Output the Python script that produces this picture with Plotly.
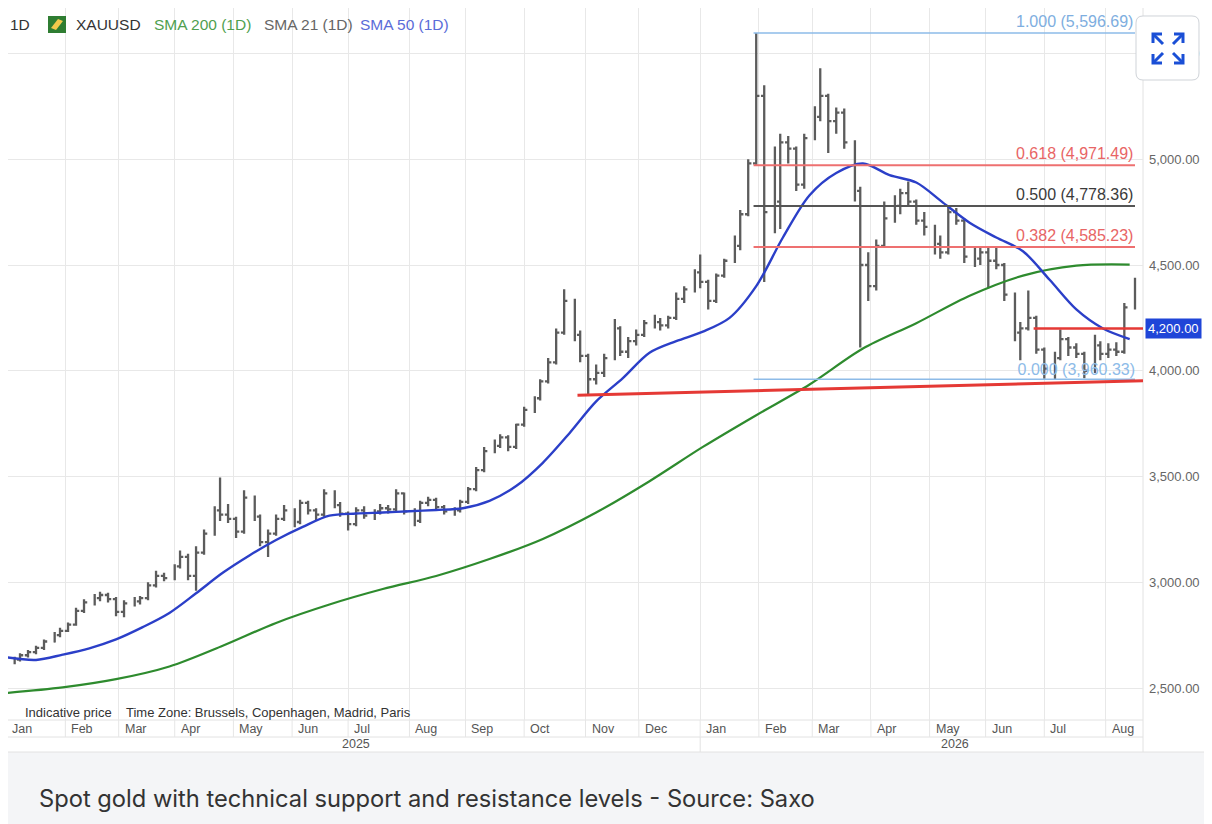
import plotly.graph_objects as go
import pandas as pd

# The page puts the figure 8px in from the top-left corner, so the figure is
# 1204x816 and reference pixel (x, y) maps to figure pixel (x-8, y-8).
OFF = 8
W, H = 1212 - OFF, 824 - OFF
def px(x): return (x - OFF) / W
def py(y): return 1 - (y - OFF) / H

# ---------------- data ----------------
bar_dates = pd.bdate_range("2025-01-01", periods=142, freq="3B")  # one bar per 3 trading days
opens = [2605, 2620, 2635, 2655, 2670, 2690, 2720, 2750, 2770, 2800,
         2865, 2905, 2925, 2940, 2920, 2860, 2900, 2910, 2925, 2985,
         3030, 3020, 3075, 3120, 3030, 3140, 3230, 3340, 3320, 3300,
         3240, 3400, 3310, 3190, 3230, 3300, 3340, 3285, 3375, 3340,
         3320, 3420, 3365, 3325, 3275, 3340, 3315, 3335, 3350, 3345,
         3420, 3335, 3290, 3375, 3390, 3355, 3335, 3340, 3380, 3440,
         3530, 3620, 3645, 3685, 3640, 3745, 3815, 3870, 3950, 4040,
         4180, 4330, 4170, 4070, 3960, 3990, 4060, 4200, 4090, 4140,
         4170, 4225, 4230, 4215, 4250, 4340, 4385, 4465, 4420, 4330,
         4450, 4520, 4590, 4740, 4980, 5300, 4750, 4800, 5080, 5050,
         4880, 5100, 5200, 5300, 5180, 5220, 5080, 4850, 4500, 4400,
         4590, 4720, 4780, 4840, 4800, 4710, 4680, 4600, 4560, 4750,
         4710, 4540, 4530, 4560, 4520, 4500, 4360, 4180, 4200, 4250,
         4100, 4010, 4060, 4150, 4110, 4080, 4000, 4120, 4080, 4100,
         4090, 4300]
highs = [2635, 2648, 2665, 2680, 2700, 2730, 2765, 2785, 2810, 2880,
         2920, 2945, 2955, 2950, 2930, 2915, 2930, 2935, 3000, 3055,
         3045, 3085, 3150, 3135, 3170, 3250, 3360, 3495, 3370, 3310,
         3435, 3410, 3320, 3250, 3320, 3365, 3350, 3390, 3385, 3350,
         3440, 3435, 3380, 3335, 3355, 3360, 3345, 3370, 3365, 3440,
         3425, 3350, 3385, 3405, 3400, 3365, 3355, 3390, 3450, 3545,
         3640, 3675, 3700, 3695, 3750, 3830, 3880, 3960, 4060, 4200,
         4385, 4340, 4190, 4080, 4030, 4080, 4245, 4210, 4160, 4195,
         4240, 4265, 4250, 4260, 4370, 4400, 4480, 4550, 4430, 4460,
         4530, 4640, 4760, 5000, 5596.7, 5350, 5060, 5120, 5110, 5060,
         5120, 5250, 5430, 5310, 5245, 5240, 5090, 4870, 4560, 4620,
         4800, 4830, 4860, 4895, 4810, 4750, 4690, 4640, 4780, 4770,
         4720, 4590, 4590, 4580, 4580, 4510, 4370, 4230, 4380, 4260,
         4110, 4090, 4195, 4160, 4130, 4090, 4170, 4140, 4130, 4135,
         4320, 4440]
lows = [2590, 2612, 2625, 2645, 2660, 2680, 2715, 2740, 2765, 2795,
        2855, 2890, 2910, 2905, 2840, 2835, 2885, 2895, 2915, 2975,
        3005, 3010, 3065, 3010, 2960, 3130, 3220, 3290, 3280, 3210,
        3230, 3290, 3170, 3120, 3220, 3290, 3260, 3275, 3320, 3295,
        3310, 3350, 3310, 3245, 3265, 3300, 3295, 3320, 3325, 3335,
        3320, 3265, 3280, 3360, 3340, 3320, 3315, 3330, 3370, 3430,
        3520, 3610, 3635, 3620, 3630, 3735, 3800, 3860, 3940, 4030,
        4170, 4140, 4040, 3890, 3935, 3970, 4050, 4070, 4060, 4120,
        4160, 4200, 4190, 4200, 4240, 4320, 4370, 4390, 4290, 4320,
        4440, 4510, 4570, 4730, 4970, 4420, 4650, 4670, 4980, 4850,
        4860, 5090, 5180, 5030, 5120, 5050, 4800, 4110, 4330, 4380,
        4580, 4700, 4740, 4780, 4690, 4640, 4550, 4530, 4550, 4690,
        4510, 4490, 4500, 4390, 4480, 4330, 4140, 4050, 4190, 4080,
        3962, 3961, 4050, 4070, 4060, 3965, 3990, 4050, 4060, 4070,
        4080, 4290]
closes = [2620, 2635, 2655, 2670, 2690, 2720, 2750, 2770, 2800, 2865,
          2905, 2925, 2940, 2920, 2860, 2900, 2910, 2925, 2985, 3030,
          3020, 3075, 3120, 3030, 3140, 3230, 3340, 3320, 3300, 3240,
          3400, 3310, 3190, 3230, 3300, 3340, 3285, 3375, 3340, 3320,
          3420, 3365, 3325, 3275, 3340, 3315, 3335, 3350, 3345, 3420,
          3335, 3290, 3375, 3390, 3355, 3335, 3340, 3380, 3440, 3530,
          3620, 3645, 3685, 3640, 3745, 3815, 3870, 3950, 4040, 4180,
          4330, 4170, 4070, 3960, 3990, 4060, 4200, 4090, 4140, 4170,
          4225, 4230, 4215, 4250, 4340, 4385, 4465, 4420, 4330, 4450,
          4520, 4590, 4740, 4980, 5300, 4750, 4800, 5080, 5050, 4880,
          5100, 5200, 5300, 5180, 5220, 5080, 4850, 4500, 4400, 4590,
          4720, 4780, 4840, 4800, 4710, 4680, 4600, 4560, 4750, 4710,
          4540, 4530, 4560, 4520, 4500, 4360, 4180, 4200, 4250, 4100,
          4010, 4060, 4150, 4110, 4080, 4000, 4120, 4080, 4100, 4090,
          4300, 4420]

sma50_dates = ["2025-01-01"] + [d.strftime("%Y-%m-%d") for d in pd.date_range("2025-01-17", periods=42, freq="14D")]
sma50 = [2647, 2633, 2658, 2688, 2730, 2788, 2855, 2948, 3045, 3127,
         3200, 3262, 3315, 3325, 3330, 3336, 3342, 3350, 3385, 3455,
         3565, 3705, 3855, 3965, 4085, 4140, 4185, 4250, 4400, 4630,
         4830, 4935, 4980, 4925, 4890, 4795, 4700, 4630, 4565, 4430,
         4290, 4200, 4150]

sma200_dates = ["2025-01-01"] + [d.strftime("%Y-%m-%d") for d in pd.date_range("2025-01-31", periods=21, freq="28D")]
sma200 = [2476, 2503, 2542, 2602, 2700, 2808, 2895, 2968, 3030, 3110,
          3205, 3330, 3478, 3640, 3790, 3935, 4105, 4225, 4355, 4450,
          4497, 4502]

fib_ratios = ["1.000", "0.618", "0.500", "0.382", "0.000"]
fib_values = [5596.69, 4971.49, 4778.36, 4585.23, 3960.33]
fib_start, fib_end = "2026-01-29", "2026-08-18"

support_dates = ["2025-10-29", "2026-08-21"]
support_values = [3884, 3953]
resist_dates = ["2026-06-25", "2026-08-21"]
resist_value = 4200

month_starts = ["2025-01-01", "2025-02-03", "2025-03-03", "2025-04-01", "2025-05-01",
                "2025-06-02", "2025-07-01", "2025-08-01", "2025-09-01", "2025-10-01",
                "2025-11-03", "2025-12-01", "2026-01-01", "2026-02-02", "2026-03-02",
                "2026-04-01", "2026-05-01", "2026-06-01", "2026-07-01", "2026-08-03"]
month_labels = ["Jan", "Feb", "Mar", "Apr", "May", "Jun", "Jul", "Aug", "Sep", "Oct",
                "Nov", "Dec", "Jan", "Feb", "Mar", "Apr", "May", "Jun", "Jul", "Aug"]
price_ticks = [2500, 3000, 3500, 4000, 4500, 5000, 5500]

# ---------------- styles ----------------
FONT = "Liberation Sans, Arial, sans-serif"
GRID = "#e8e8e8"
fib_line_colors = ["#8dbbe8", "#ee7070", "#555555", "#ee7070", "#8dbbe8"]
fib_text_colors = ["#7eaee0", "#e86565", "#3a3a3a", "#e86565", "#8dbbe8"]
fib_widths = [1.5, 2, 2, 2, 1.5]

fig = go.Figure()

# label of fib 0.000 sits under the price bars
fig.add_trace(go.Scatter(
    x=[fib_end], y=[fib_values[4]], mode="text",
    text=[f"{fib_ratios[4]} ({fib_values[4]:,.2f})"], textposition="top left",
    textfont=dict(family=FONT, size=16, color=fib_text_colors[4]),
    hoverinfo="skip", showlegend=False))

fig.add_trace(go.Scatter(x=sma200_dates, y=sma200, mode="lines",
                         line=dict(color="#2e8b2e", width=2.2, shape="spline", smoothing=0.9),
                         hoverinfo="skip", showlegend=False))

fig.add_trace(go.Ohlc(x=bar_dates, open=opens, high=highs, low=lows, close=closes,
                      increasing=dict(line=dict(color="#5c5c5c", width=2.3)),
                      decreasing=dict(line=dict(color="#5c5c5c", width=2.3)),
                      tickwidth=0.4, hoverinfo="skip", showlegend=False))

fig.add_trace(go.Scatter(x=sma50_dates, y=sma50, mode="lines",
                         line=dict(color="#2b3fc8", width=2.4, shape="spline", smoothing=0.9),
                         hoverinfo="skip", showlegend=False))

shapes = []
# caption background
shapes.append(dict(type="rect", xref="paper", yref="paper", x0=0, x1=1, y0=0, y1=py(752),
                   fillcolor="#f4f5f7", line=dict(width=0), layer="below"))
# frame / row separators
for yy, xe in ((720, 1143), (737, 1143), (752, 1212)):
    shapes.append(dict(type="line", xref="paper", yref="paper", x0=0, x1=px(xe),
                       y0=py(yy), y1=py(yy), line=dict(color="#e2e2e2", width=1), layer="below"))
shapes.append(dict(type="line", xref="paper", yref="paper", x0=px(1143), x1=px(1143), y0=1, y1=py(752),
                   line=dict(color="#e2e2e2", width=1), layer="below"))
# month grid lines in the month row
for d in month_starts[1:]:
    shapes.append(dict(type="line", xref="x", yref="paper", x0=d, x1=d, y0=py(737), y1=py(720),
                       line=dict(color="#e6e6e6", width=1), layer="below"))
# year separator
shapes.append(dict(type="line", xref="x", yref="paper", x0="2026-01-01", x1="2026-01-01",
                   y0=py(752), y1=py(737), line=dict(color="#e2e2e2", width=1), layer="below"))

# fibonacci lines
for v, c, w in zip(fib_values, fib_line_colors, fib_widths):
    shapes.append(dict(type="line", xref="x", yref="y", x0=fib_start, x1=fib_end, y0=v, y1=v,
                       line=dict(color=c, width=w), layer="above"))
# support / resistance
shapes.append(dict(type="line", xref="x", yref="y", x0=support_dates[0], x1=support_dates[1],
                   y0=support_values[0], y1=support_values[1], line=dict(color="#e53935", width=3)))
shapes.append(dict(type="line", xref="x", yref="y", x0=resist_dates[0], x1=resist_dates[1],
                   y0=resist_value, y1=resist_value, line=dict(color="#e53935", width=2.5)))

# expand icon
def ppath(cmds):
    out = []
    for c in cmds:
        if isinstance(c, str):
            out.append(c)
        else:
            out.append(f"{px(c[0]):.5f},{py(c[1]):.5f}")
    return " ".join(out)

x0, y0, x1, y1, r = 1136, 16, 1199, 80, 7
box = ppath(["M", (x0 + r, y0), "L", (x1 - r, y0), "Q", (x1, y0), (x1, y0 + r), "L", (x1, y1 - r),
             "Q", (x1, y1), (x1 - r, y1), "L", (x0 + r, y1), "Q", (x0, y1), (x0, y1 - r),
             "L", (x0, y0 + r), "Q", (x0, y0), (x0 + r, y0), "Z"])
shapes.append(dict(type="path", xref="paper", yref="paper", path=box, fillcolor="white",
                   line=dict(color="#cfd3d8", width=1), layer="above"))
for (cx, cy, dx, dy) in [(1153, 34, -1, -1), (1183, 34, 1, -1), (1153, 63, -1, 1), (1183, 63, 1, 1)]:
    head = ppath(["M", (cx - dx * 9, cy), "L", (cx, cy), "L", (cx, cy - dy * 9)])
    shaft = ppath(["M", (cx, cy), "L", (cx - dx * 10, cy - dy * 10)])
    for p in (head, shaft):
        shapes.append(dict(type="path", xref="paper", yref="paper", path=p,
                           line=dict(color="#1a4fd6", width=3), layer="above"))

# legend gold icon
shapes.append(dict(type="rect", xref="paper", yref="paper", x0=px(48), x1=px(66), y0=py(33), y1=py(16),
                   fillcolor="#2f7d32", line=dict(width=0)))
shapes.append(dict(type="path", xref="paper", yref="paper",
                   path=ppath(["M", (51, 28), "L", (58, 19), "L", (63, 21), "L", (56, 30), "Z"]),
                   fillcolor="#f2c94c", line=dict(width=0)))

ann = []
# legend row
for text, x, col in [("1D", 8, "#333333"), ("XAUUSD", 74, "#333333"), ("SMA 200 (1D)", 152, "#4f9f4f"),
                     ("SMA 21 (1D)", 262, "#666666"), ("SMA 50 (1D)", 358, "#5a6cd8")]:
    ann.append(dict(text=text, xref="paper", yref="paper", x=px(x), y=py(24), xanchor="left",
                    yanchor="middle", showarrow=False, font=dict(family=FONT, size=15.5, color=col)))
# fib labels (except 0.000 which is a trace)
for i in range(4):
    ann.append(dict(text=f"{fib_ratios[i]} ({fib_values[i]:,.2f})", xref="x", yref="y",
                    x=fib_end, y=fib_values[i], xanchor="right", yanchor="bottom", yshift=1,
                    showarrow=False, font=dict(family=FONT, size=16, color=fib_text_colors[i])))
# 4200 axis badge
ann.append(dict(text=f"{resist_value:,.2f}", xref="paper", yref="y", x=px(1145), y=resist_value,
                xanchor="left", yanchor="middle", showarrow=False, bgcolor="#1f45d8",
                borderpad=2, font=dict(family=FONT, size=13, color="white")))
# month labels (first one sits at the clipped left edge, so place it in paper units)
ann.append(dict(text=month_labels[0], xref="paper", yref="paper", x=px(10), y=py(729),
                xanchor="left", yanchor="middle", showarrow=False,
                font=dict(family=FONT, size=12.5, color="#555555")))
for d, m in zip(month_starts[1:], month_labels[1:]):
    ann.append(dict(text=m, xref="x", yref="paper", x=d, y=py(729), xanchor="left", yanchor="middle",
                    xshift=4, showarrow=False, font=dict(family=FONT, size=12.5, color="#555555")))
for t, x in [("2025", 356), ("2026", 955)]:
    ann.append(dict(text=t, xref="paper", yref="paper", x=px(x), y=py(744), xanchor="center",
                    yanchor="middle", showarrow=False, font=dict(family=FONT, size=12.5, color="#555555")))
ann.append(dict(text="Indicative price", xref="paper", yref="paper", x=px(23), y=py(712),
                xanchor="left", yanchor="middle", showarrow=False,
                font=dict(family=FONT, size=13, color="#333333")))
ann.append(dict(text="Time Zone: Brussels, Copenhagen, Madrid, Paris", xref="paper", yref="paper",
                x=px(124), y=py(712), xanchor="left", yanchor="middle", showarrow=False,
                font=dict(family=FONT, size=13, color="#333333")))
# caption
ann.append(dict(text="Spot gold with technical support and resistance levels - Source: Saxo",
                xref="paper", yref="paper", x=px(37), y=py(798), xanchor="left", yanchor="middle",
                showarrow=False, font=dict(family="Inter, Open Sans, sans-serif", size=23.7, color="#333333")))

fig.update_layout(
    width=W, height=H, margin=dict(l=0, r=0, t=0, b=0),
    paper_bgcolor="white", plot_bgcolor="white", showlegend=False,
    shapes=shapes, annotations=ann, hovermode=False,
    xaxis=dict(type="date", domain=[0, px(1143)], range=["2025-01-02 12:00", "2026-08-21"],
               rangebreaks=[dict(bounds=["sat", "mon"])], rangeslider=dict(visible=False),
               tickvals=month_starts, showticklabels=False, ticks="", showgrid=True,
               gridcolor=GRID, gridwidth=1, zeroline=False, showline=False, fixedrange=True),
    yaxis=dict(side="right", domain=[py(720), 1], range=[2349, 5715], tickvals=price_ticks,
               tickformat=",.2f", ticks="", ticklabelstandoff=5,
               tickfont=dict(family=FONT, size=13, color="#666666"),
               showgrid=True, gridcolor=GRID, gridwidth=1, zeroline=False, showline=False,
               fixedrange=True),
)

fig.write_html("out.html", config={"displayModeBar": False})
